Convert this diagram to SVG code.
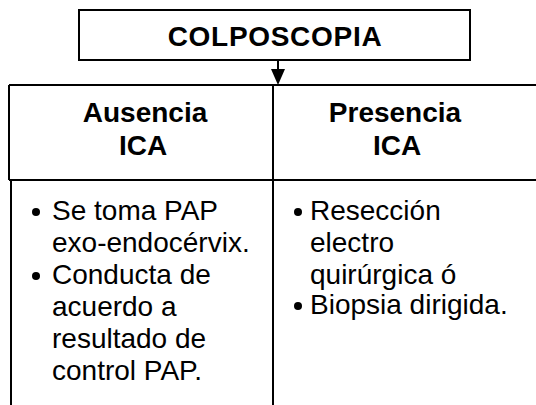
<svg xmlns="http://www.w3.org/2000/svg" width="536" height="405" viewBox="0 0 536 405">
<style>
.ln{stroke:#000;stroke-width:2;fill:none}
.h{font-family:"Liberation Sans",Arial,sans-serif;font-weight:bold;font-size:28px;text-anchor:middle;fill:#000}
.b{font-family:"Liberation Sans",Arial,sans-serif;font-size:28px;fill:#000}
</style>
<rect width="536" height="405" fill="#fff"/>
<g id="colposcopia">
<rect class="ln" x="79" y="10" width="391" height="50"/>
<text class="h" x="275" y="46" letter-spacing="0.7">COLPOSCOPIA</text>
</g>
<g id="connectors">
<line class="ln" x1="278" y1="60" x2="278" y2="70"/>
<polygon points="271,69 285,69 278,85" fill="#000"/>
</g>
<g id="table">
<line class="ln" x1="9" y1="85" x2="536" y2="85"/>
<line class="ln" x1="9" y1="85" x2="9" y2="180"/>
<line class="ln" x1="11" y1="180" x2="11" y2="405"/>
<line class="ln" x1="9" y1="180" x2="536" y2="180"/>
<line class="ln" x1="273" y1="85" x2="273" y2="405"/>
</g>
<g id="ausencia">
<text class="h" x="145" y="122">Ausencia</text>
<text class="h" x="143" y="155">ICA</text>
</g>
<g id="presencia">
<text class="h" x="395" y="122">Presencia</text>
<text class="h" x="397" y="155">ICA</text>
</g>
<g id="ausencia-body">
<circle cx="36" cy="212" r="4"/>
<circle cx="36" cy="276" r="4"/>
<text class="b" x="52" y="220">Se toma PAP</text>
<text class="b" x="52" y="252">exo-endocérvix.</text>
<text class="b" x="52" y="284">Conducta de</text>
<text class="b" x="52" y="316">acuerdo a</text>
<text class="b" x="52" y="348">resultado de</text>
<text class="b" x="52" y="380">control PAP.</text>
</g>
<g id="presencia-body">
<circle cx="298" cy="212" r="4"/>
<circle cx="298" cy="306" r="4"/>
<text class="b" x="310" y="220">Resección</text>
<text class="b" x="310" y="252">electro</text>
<text class="b" x="310" y="284">quirúrgica ó</text>
<text class="b" x="310" y="314">Biopsia dirigida.</text>
</g>
</svg>
